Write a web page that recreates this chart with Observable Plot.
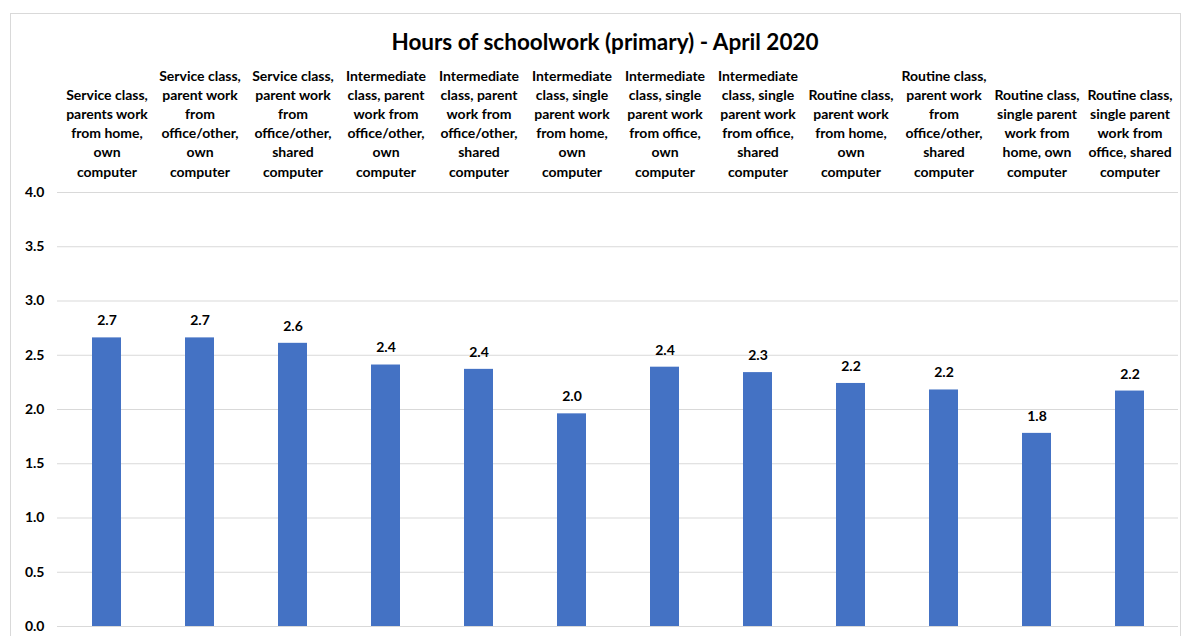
<!DOCTYPE html>
<html>
<head>
<meta charset="utf-8">
<script src="https://cdn.jsdelivr.net/npm/d3@7"></script>
<script src="https://cdn.jsdelivr.net/npm/@observablehq/plot@0.6"></script>
<style>
  body { margin: 0; background: #fff; font-family: Lato, "Open Sans", sans-serif; }
  #frame { position: absolute; left: 10px; top: 13px; width: 1171px; height: 640px; border: 1px solid #d9d9d9; box-sizing: border-box; }
  #title { position: absolute; left: 0; top: 28px; width: 1210px; text-align: center; font-size: 22.5px; font-weight: bold; color: #000; }
  #chart { position: absolute; left: 0; top: 60px; }
  #chart svg text { font-family: Lato, "Open Sans", sans-serif; }
</style>
</head>
<body>
<div id="frame"></div>
<div id="title">Hours of schoolwork (primary) - April 2020</div>
<div id="chart"></div>
<script>
const categories = [
  "Service class,\nparents work\nfrom home,\nown\ncomputer",
  "Service class,\nparent work\nfrom\noffice/other,\nown\ncomputer",
  "Service class,\nparent work\nfrom\noffice/other,\nshared\ncomputer",
  "Intermediate\nclass, parent\nwork from\noffice/other,\nown\ncomputer",
  "Intermediate\nclass, parent\nwork from\noffice/other,\nshared\ncomputer",
  "Intermediate\nclass, single\nparent work\nfrom home,\nown\ncomputer",
  "Intermediate\nclass, single\nparent work\nfrom office,\nown\ncomputer",
  "Intermediate\nclass, single\nparent work\nfrom office,\nshared\ncomputer",
  "Routine class,\nparent work\nfrom home,\nown\ncomputer",
  "Routine class,\nparent work\nfrom\noffice/other,\nshared\ncomputer",
  "Routine class,\nsingle parent\nwork from\nhome, own\ncomputer",
  "Routine class,\nsingle parent\nwork from\noffice, shared\ncomputer"
];
const hours = [2.66, 2.66, 2.61, 2.41, 2.37, 1.96, 2.39, 2.34, 2.24, 2.18, 1.78, 2.17];
const yTicks = [0, 0.5, 1, 1.5, 2, 2.5, 3, 3.5, 4];

const data = categories.map((c, i) => ({category: c, value: hours[i]}));

const chart = Plot.plot({
  width: 1184,
  height: 576,
  marginLeft: 57,
  marginRight: 6,
  marginTop: 132,
  marginBottom: 10,
  style: {fontSize: "14px", fontWeight: "bold", color: "#000", background: "transparent"},
  x: {domain: categories, paddingInner: 0.69, paddingOuter: 0.345, align: 0.5, label: null},
  y: {domain: [0, 4], label: null},
  marks: [
    Plot.gridY(yTicks, {stroke: "#d9d9d9", strokeOpacity: 1, strokeWidth: 1}),
    Plot.axisY(yTicks, {tickSize: 0, tickPadding: 13, tickFormat: d3.format(".1f"), fontWeight: "bold", fill: "#000", fontSize: 14, label: null}),
    Plot.axisX({anchor: "top", tickSize: 0, tickPadding: 16, lineHeight: 1.36, fontWeight: "bold", fill: "#000", fontSize: 14, label: null}),
    Plot.barY(data, {x: "category", y: "value", fill: "#4472C4"}),
    Plot.text(data, {x: "category", y: "value", text: d => d3.format(".1f")(d.value), dy: -17, fontWeight: "bold", fill: "#000", fontSize: 14})
  ]
});
document.getElementById("chart").appendChild(chart);
</script>
</body>
</html>
